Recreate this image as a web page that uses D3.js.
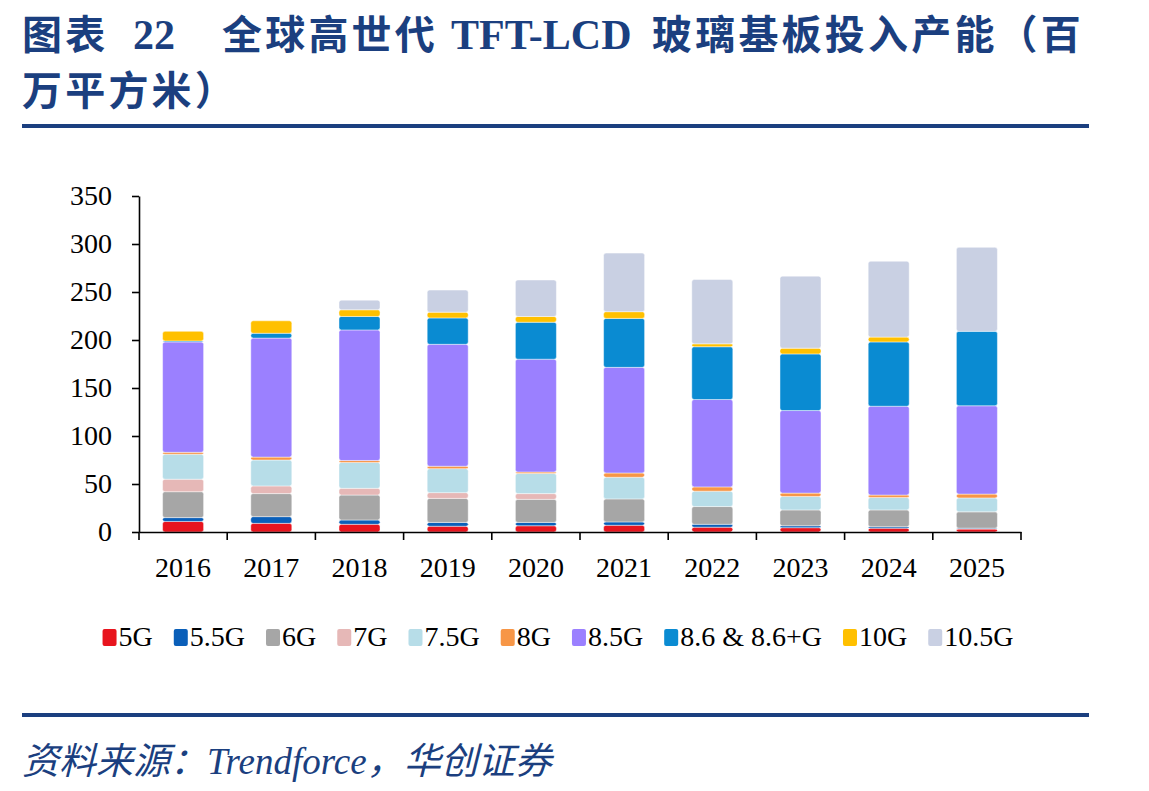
<!DOCTYPE html>
<html>
<head>
<meta charset="utf-8">
<script src="https://cdn.jsdelivr.net/npm/d3@7"></script>
<style>
  body { margin: 0; background: #fff; }
  svg { display: block; }
</style>
</head>
<body>
<svg id="chart" width="1149" height="791"></svg>
<script>
// data (million m2), stacked bottom -> top
var years = ['2016', '2017', '2018', '2019', '2020', '2021', '2022', '2023', '2024', '2025'];
var series = ['5G', '5.5G', '6G', '7G', '7.5G', '8G', '8.5G', '8.6 & 8.6+G', '10G', '10.5G'];
var g5   = [11, 9, 8, 6, 6.5, 7, 5, 4.5, 4, 3];
var g55  = [4, 7, 4.5, 4, 3.5, 3.5, 3, 2, 1.5, 1];
var g6   = [27, 24, 26, 25, 24, 24, 18.5, 16.5, 17.5, 17];
var g7   = [13, 8, 7, 6, 6, 0, 0, 0, 0, 0];
var g75  = [26, 27, 27, 25, 21, 22.5, 16, 14, 13, 14.5];
var g8   = [2, 3, 2, 2.5, 1.5, 4.5, 4.5, 3.5, 2.5, 4];
var g85  = [115, 124, 136, 127, 117.5, 110, 91, 86, 92.5, 92];
var g86  = [1, 5, 14, 27.5, 38.5, 51, 55, 59, 67, 77.5];
var g10  = [10, 13, 7, 6, 6, 7, 3, 6, 5, 0];
var g105 = [0, 0, 10, 23, 38, 61, 67, 75, 79, 87.5];
var yTicks = [0, 50, 100, 150, 200, 250, 300, 350];

var colors = ['#e8141e', '#0a5fb9', '#a6a6a6', '#e6b8b7', '#b7dde8', '#f79646',
              '#9b80ff', '#0a8bd2', '#ffc000', '#c9d0e3'];

var columns = [g5, g55, g6, g7, g75, g8, g85, g86, g10, g105];
var rows = years.map(function(y, i){
	var r = { year: y };
	series.forEach(function(s, k){ r[s] = columns[k][i]; });
	return r;
});

var svg = d3.select('#chart');
var navy = '#1b3f7f';
var serif = '"Liberation Serif", "Times New Roman", serif';
var cjk = '"Noto Sans CJK SC", sans-serif';

// title
var title = svg.append('text').attr('y', 49).attr('fill', navy)
	.style('font-weight', 'bold').style('font-size', '40px');
[['图表', 22, cjk], ['22', 133, serif], ['全球高世代', 222, cjk],
 ['TFT-LCD', 451, serif], ['玻璃基板投入产能（百', 652, cjk]].forEach(function(p){
	title.append('tspan').attr('x', p[1]).style('font-family', p[2])
		.style('font-size', p[2] == serif ? '42px' : '40px')
		.style('letter-spacing', p[2] == serif ? '0px' : '3.2px').text(p[0]);
});
svg.append('text').attr('x', 22).attr('y', 105).attr('fill', navy)
	.style('font-weight', 'bold').style('font-size', '40px').style('font-family', cjk)
	.style('letter-spacing', '3.2px').text('万平方米）');

svg.append('rect').attr('x', 22).attr('y', 124).attr('width', 1067).attr('height', 4).attr('fill', navy);
svg.append('rect').attr('x', 22).attr('y', 713).attr('width', 1067).attr('height', 4).attr('fill', navy);

// source
var src = svg.append('text').attr('x', 22).attr('y', 774).attr('fill', navy)
	.style('font-style', 'italic').style('font-size', '37px');
src.append('tspan').style('font-family', cjk).text('资料来源：');
src.append('tspan').style('font-family', serif).text('Trendforce');
src.append('tspan').style('font-family', cjk).text('，华创证券');

// scales
var x = d3.scaleBand().domain(years).range([139, 1021]).paddingInner(0.535).paddingOuter(0.2675);
var y = d3.scaleLinear().domain([0, 350]).range([532, 196]);

var stack = d3.stack().keys(series)(rows);

var layers = svg.append('g').selectAll('g').data(stack).enter().append('g')
	.attr('fill', function(d, i){ return colors[i]; });
layers.selectAll('rect').data(function(d){ return d; }).enter().append('rect')
	.filter(function(d){ return d[1] - d[0] > 0; })
	.attr('x', function(d){ return x(d.data.year); })
	.attr('width', x.bandwidth())
	.attr('y', function(d){ return y(d[1]); })
	.attr('height', function(d){ return y(d[0]) - y(d[1]); })
	.attr('rx', 2.5)
	.attr('stroke', '#ffffff').attr('stroke-opacity', 0.45).attr('stroke-width', 1);

// axes
var yAxis = svg.append('g').attr('transform', 'translate(139,0)')
	.call(d3.axisLeft(y).tickValues(yTicks).tickSize(7).tickSizeOuter(0).tickPadding(20));
var xAxis = svg.append('g').attr('transform', 'translate(0,532)')
	.call(d3.axisBottom(x).tickSize(0).tickPadding(25));
[yAxis, xAxis].forEach(function(a){
	a.selectAll('path, line').attr('stroke', '#000').attr('stroke-width', 1.6);
	a.selectAll('text').attr('fill', '#000').style('font-family', serif).style('font-size', '28px');
});
svg.append('g').selectAll('line').data(d3.range(years.length + 1)).enter().append('line')
	.attr('x1', function(i){ return x.range()[0] + i * x.step(); })
	.attr('x2', function(i){ return x.range()[0] + i * x.step(); })
	.attr('y1', 532).attr('y2', 540)
	.attr('stroke', '#000').attr('stroke-width', 1.6);

// legend
var legend = svg.append('g');
var items = legend.selectAll('g').data(series).enter().append('g');
items.append('rect').attr('width', 14).attr('height', 17).attr('y', -17).attr('rx', 2)
	.attr('fill', function(d, i){ return colors[i]; });
items.append('text').attr('x', 16).attr('y', 0).style('font-family', serif)
	.style('font-size', '28px').attr('fill', '#000').text(function(d){ return d; });
var gap = 21, pos = 0, offs = [];
items.each(function(){
	offs.push(pos);
	pos += 16 + this.querySelector('text').getComputedTextLength() + gap;
});
pos -= gap;
var start = 558 - pos / 2;
items.attr('transform', function(d, i){ return 'translate(' + (start + offs[i]) + ',646)'; });
</script>
</body>
</html>
